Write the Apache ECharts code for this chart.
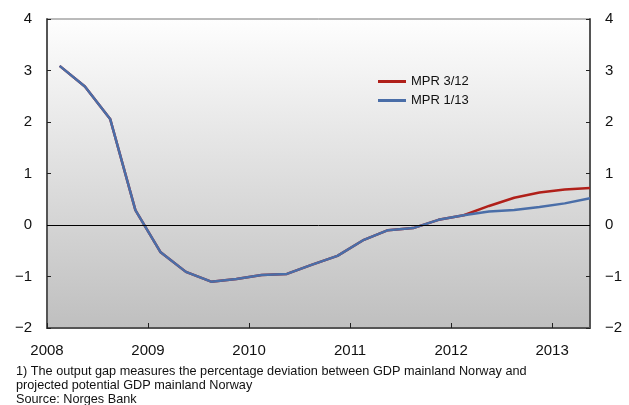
<!DOCTYPE html>
<html>
<head>
<meta charset="utf-8">
<script src="https://cdn.jsdelivr.net/npm/echarts@6/dist/echarts.min.js"></script>
<style>
html,body{margin:0;padding:0;background:#fff;}
#c{width:629px;height:405px;}
</style>
</head>
<body>
<div id="c"></div>
<script>
var quarters = ['2008Q1','2008Q2','2008Q3','2008Q4','2009Q1','2009Q2','2009Q3','2009Q4',
  '2010Q1','2010Q2','2010Q3','2010Q4','2011Q1','2011Q2','2011Q3','2011Q4',
  '2012Q1','2012Q2','2012Q3','2012Q4','2013Q1','2013Q2'];
var mpr312 = [3.09,2.69,2.06,0.29,-0.53,-0.91,-1.10,-1.05,-0.97,-0.95,-0.77,-0.60,
  -0.30,-0.10,-0.06,0.10,0.19,0.37,0.53,0.63,0.69,0.72];
var mpr113 = [3.09,2.69,2.06,0.29,-0.53,-0.91,-1.10,-1.05,-0.97,-0.95,-0.77,-0.60,
  -0.30,-0.10,-0.06,0.10,0.19,0.26,0.29,0.35,0.42,0.52];
var yearTicks = [2008,2009,2010,2011,2012,2013];
var yTicks = [-2,-1,0,1,2,3,4];
var footnotes = [
  '1) The output gap measures the percentage deviation between GDP mainland Norway and',
  'projected potential GDP mainland Norway',
  'Source: Norges Bank'
];

function qToYear(q){ var y=+q.slice(0,4), n=+q.slice(5); return y + (n-0.5)/4; }
function pairs(vals){ return quarters.map(function(q,i){ return [qToYear(q), vals[i]]; }); }
function fmtY(v){ return v<0 ? '\u2212'+Math.abs(v) : String(v); }

var FONT = "'Liberation Sans', Arial, Helvetica, sans-serif";
var chart = echarts.init(document.getElementById('c'), null, {renderer:'canvas'});

var yAxisCommon = {
  type:'value', min:yTicks[0], max:yTicks[yTicks.length-1], interval:1,
  axisLine:{show:true, onZero:false, lineStyle:{color:'#555', width:2}},
  axisTick:{show:true, inside:true, length:4, lineStyle:{color:'#222', width:1}},
  splitLine:{show:false},
  axisLabel:{color:'#111', fontSize:15, fontFamily:FONT, margin:15, formatter:fmtY}
};

chart.setOption({
  animation:false,
  textStyle:{fontFamily:FONT},
  grid:{left:47, right:39, top:19, bottom:77, show:true,
    borderWidth:1, borderColor:'#777',
    backgroundColor:new echarts.graphic.LinearGradient(0,0,0,1,[
      {offset:0,color:'#fefefe'},{offset:1,color:'#bfbfbf'}])},
  legend:{
    orient:'vertical', left:373, top:70, itemGap:6,
    itemWidth:28, itemHeight:3, icon:'rect',
    textStyle:{fontSize:13, color:'#111', fontFamily:FONT},
    data:['MPR 3/12','MPR 1/13']
  },
  xAxis:[{
    type:'value', min:yearTicks[0], max:2013.375, interval:1,
    axisLine:{show:true, onZero:false, lineStyle:{color:'#555', width:2}},
    axisTick:{show:true, inside:true, length:5, lineStyle:{color:'#222', width:1}},
    splitLine:{show:false},
    axisLabel:{color:'#111', fontSize:15, fontFamily:FONT, margin:15, showMaxLabel:false,
      formatter:function(v){ return yearTicks.indexOf(v)>=0 ? String(v) : ''; }}
  }],
  yAxis:[
    Object.assign({}, yAxisCommon, {position:'left'}),
    Object.assign({}, yAxisCommon, {position:'right'})
  ],
  series:[
    {name:'MPR 3/12', type:'line', data:pairs(mpr312), showSymbol:false, symbol:'none',
      color:'#b0201a', lineStyle:{width:2.5, color:'#b0201a'}, z:3,
      markLine:{silent:true, symbol:'none', label:{show:false},
        lineStyle:{color:'#000', width:1, type:'solid'}, data:[{yAxis:0}]}},
    {name:'MPR 1/13', type:'line', data:pairs(mpr113), showSymbol:false, symbol:'none',
      color:'#4a6ea8', lineStyle:{width:2.5, color:'#4a6ea8'}, z:4}
  ],
  graphic:footnotes.map(function(t,i){
    return {type:'text', left:16, top:364.5+i*14.3,
      style:{text:t, fontSize:12.7, fill:'#111', fontFamily:FONT}};
  })
});
</script>
</body>
</html>
